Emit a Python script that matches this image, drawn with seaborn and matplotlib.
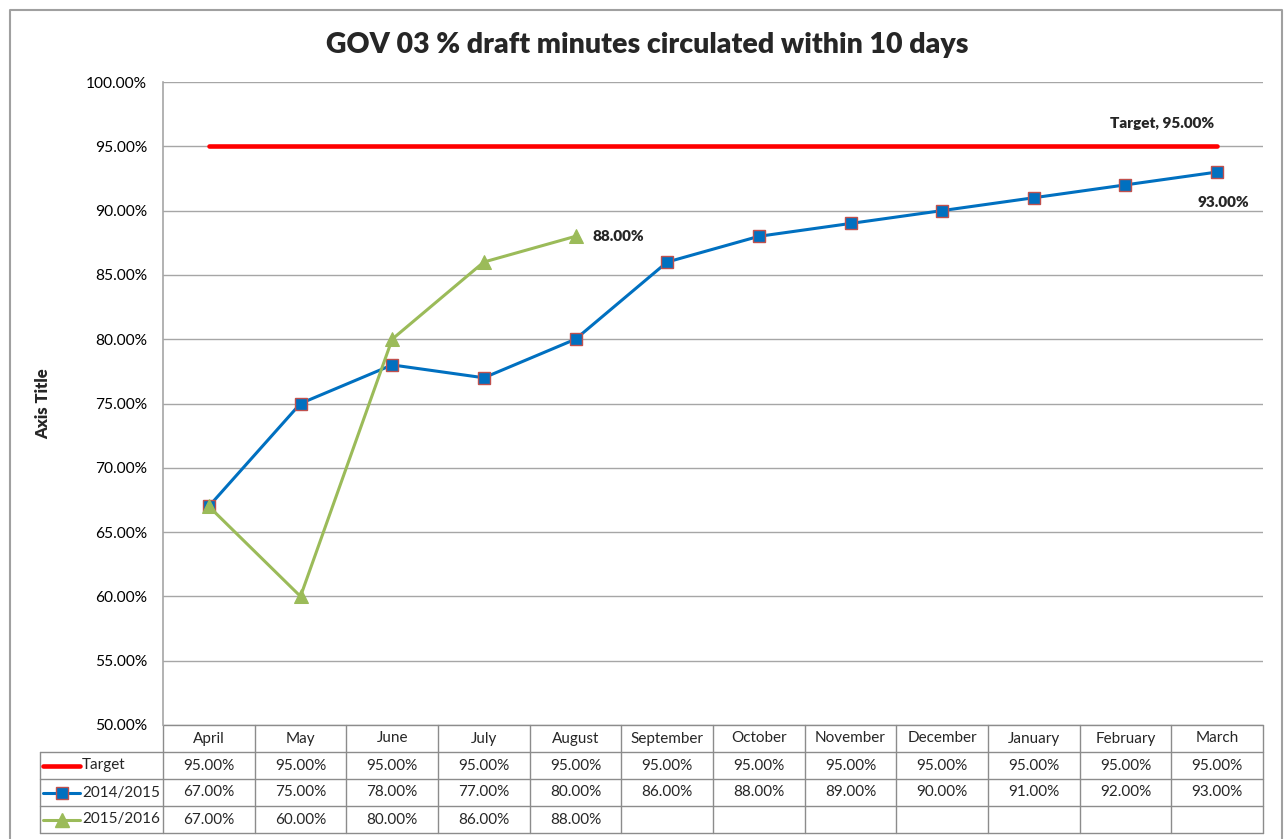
import matplotlib
matplotlib.use("Agg")
import matplotlib.pyplot as plt
import pandas as pd
import seaborn as sns

# datos del grafico
months = ["April", "May", "June", "July", "August", "September", "October",
          "November", "December", "January", "February", "March"]
target = [95, 95, 95, 95, 95, 95, 95, 95, 95, 95, 95, 95]
y2014 = [67, 75, 78, 77, 80, 86, 88, 89, 90, 91, 92, 93]
y2015 = [67, 60, 80, 86, 88]
series_names = ["Target", "2014/2015", "2015/2016"]

RED = "#FF0000"
BLUE = "#0070C0"
GREEN = "#9BBB59"
EDGE = "#C0504D"
GRID = "#A6A6A6"

sns.set_style("white")
plt.rcParams["font.family"] = ["Lato", "DejaVu Sans"]

W, H = 1285, 839
fig = plt.figure(figsize=(W / 100, H / 100), dpi=100)

# capa de fondo en pixeles (borde y tabla)
bg = fig.add_axes([0, 0, 1, 1], zorder=0)
bg.set_xlim(0, W)
bg.set_ylim(H, 0)
bg.axis("off")

left, right, top, bottom = 163, 1263, 82, 725
ax = fig.add_axes([left / W, 1 - bottom / H, (right - left) / W, (bottom - top) / H], zorder=1)
ax.set_facecolor("none")

x_all = list(range(len(months)))
df_t = pd.DataFrame({"x": x_all, "y": target})
df_a = pd.DataFrame({"x": x_all, "y": y2014})
df_b = pd.DataFrame({"x": x_all[:len(y2015)], "y": y2015})

sns.lineplot(data=df_t, x="x", y="y", ax=ax, color=RED, lw=3.3, zorder=3)
sns.lineplot(data=df_a, x="x", y="y", ax=ax, color=BLUE, lw=2.2, marker="s",
             markersize=8.5, markerfacecolor=BLUE, markeredgecolor=EDGE,
             markeredgewidth=1, zorder=4)
sns.lineplot(data=df_b, x="x", y="y", ax=ax, color=GREEN, lw=2.2, marker="^",
             markersize=9.5, markerfacecolor=GREEN, markeredgecolor=GREEN, zorder=5)

ax.set_xlim(-0.5, len(months) - 0.5)
ax.set_ylim(50, 100)
ax.set_yticks(range(50, 101, 5))
ax.set_yticklabels([f"{v:.2f}%" for v in range(50, 101, 5)])
ax.set_xticks([])
ax.set_xlabel("")
ax.set_ylabel("")
ax.tick_params(axis="y", length=0, pad=11.5, labelsize=11.2, labelcolor="black")
for v in range(50, 101, 5):
    ax.axhline(v, color=GRID, lw=1, zorder=1)
for s in ["top", "right", "bottom"]:
    ax.spines[s].set_visible(False)
ax.spines["left"].set_color(GRID)
ax.spines["left"].set_linewidth(1.2)

# etiquetas de datos
lab = dict(fontsize=11, fontweight="heavy", textcoords="offset pixels", va="center")
ax.annotate(f"Target, {target[-1]:.2f}%", (x_all[-1], target[-1]), xytext=(-55, 23),
            ha="center", **lab)
ax.annotate(f"{y2014[-1]:.2f}%", (x_all[-1], y2014[-1]), xytext=(32, -30),
            ha="right", **lab)
ax.annotate(f"{y2015[-1]:.2f}%", (len(y2015) - 1, y2015[-1]), xytext=(17, 0),
            ha="left", **lab)

fig.text(647 / W, 1 - 45 / H, "GOV 03 % draft minutes circulated within 10 days",
         ha="center", va="center", fontsize=20.5, fontweight="heavy")
fig.text(43 / W, 1 - 404 / H, "Axis Title", rotation=90, ha="center", va="center",
         fontsize=12, fontweight="heavy")

# borde exterior
bg.plot([10, 10, 1282, 1282], [839, 10, 10, 839], color="#A0A0A0", lw=1.5)

# tabla de datos
col_w = (right - left) / len(months)
row_y = [725, 752, 779, 806, 833]
tcol = "#8C8C8C"
# lineas horizontales
bg.plot([left, right], [row_y[0]] * 2, color=tcol, lw=1)
for yy in row_y[1:]:
    bg.plot([40, right], [yy] * 2, color=tcol, lw=1)
# lineas verticales
bg.plot([40, 40], [row_y[1], row_y[-1]], color=tcol, lw=1)
for i in range(len(months) + 1):
    xx = left + i * col_w
    bg.plot([xx, xx], [row_y[0], row_y[-1]], color=tcol, lw=1)

for i, m in enumerate(months):
    cx = left + (i + 0.5) * col_w
    bg.text(cx, (row_y[0] + row_y[1]) / 2, m, ha="center", va="center", fontsize=11)
rows = [target, y2014, y2015]
for r, vals in enumerate(rows):
    cy = (row_y[r + 1] + row_y[r + 2]) / 2
    for i, v in enumerate(vals):
        cx = left + (i + 0.5) * col_w
        bg.text(cx, cy, f"{v:.2f}%", ha="center", va="center", fontsize=11)
    bg.text(82, cy, series_names[r], ha="left", va="center", fontsize=11)

# claves de leyenda
ky = [(row_y[i] + row_y[i + 1]) / 2 for i in range(1, 4)]
bg.plot([43, 80], [ky[0]] * 2, color=RED, lw=3.3, solid_capstyle="round")
bg.plot([43, 80], [ky[1]] * 2, color=BLUE, lw=2.2)
bg.plot([62], [ky[1]], marker="s", markersize=8.5, color=BLUE, markeredgecolor=EDGE)
bg.plot([43, 80], [ky[2]] * 2, color=GREEN, lw=2.2)
bg.plot([62], [ky[2]], marker="^", markersize=9.5, color=GREEN)

fig.savefig("out.png", dpi=100)
